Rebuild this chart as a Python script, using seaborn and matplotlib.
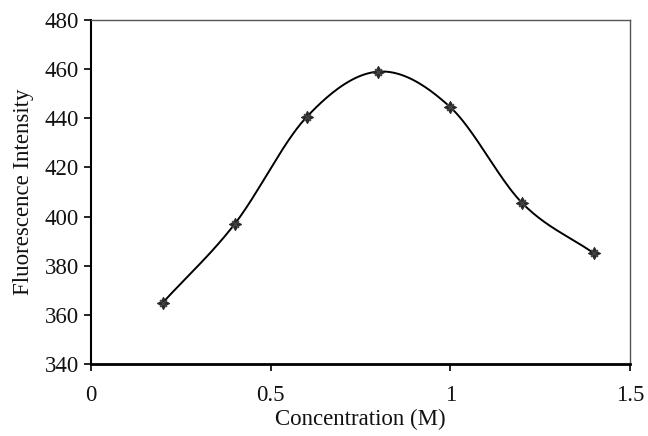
import numpy as np
import pandas as pd
import seaborn as sns
import matplotlib
matplotlib.use("Agg")
import matplotlib.pyplot as plt

# Data
concentration = [0.2, 0.4, 0.6, 0.8, 1.0, 1.2, 1.4]
intensity = [365.0, 397.0, 440.5, 459.0, 444.5, 405.5, 385.0]
x_ticks = [0, 0.5, 1, 1.5]
x_tick_labels = ["0", "0.5", "1", "1.5"]
y_ticks = [340, 360, 380, 400, 420, 440, 460, 480]

sns.set_theme(style="white")
plt.rcParams["font.family"] = ["Liberation Serif", "DejaVu Serif"]

df = pd.DataFrame({"x": concentration, "y": intensity})


def catmull_rom(xs, ys, n=40):
    """Excel-like smoothed line through the data points."""
    xs = np.asarray(xs, float)
    ys = np.asarray(ys, float)
    px = np.concatenate([[2 * xs[0] - xs[1]], xs, [2 * xs[-1] - xs[-2]]])
    py = np.concatenate([[2 * ys[0] - ys[1]], ys, [2 * ys[-1] - ys[-2]]])
    outx, outy = [], []
    for i in range(1, len(px) - 2):
        p0, p1, p2, p3 = (np.array([px[j], py[j]]) for j in range(i - 1, i + 3))
        c1 = p1 + (p2 - p0) / 6.0
        c2 = p2 - (p3 - p1) / 6.0
        t = np.linspace(0, 1, n)[:, None]
        pts = ((1 - t) ** 3) * p1 + 3 * ((1 - t) ** 2) * t * c1 + 3 * (1 - t) * t ** 2 * c2 + t ** 3 * p2
        outx.extend(pts[:, 0])
        outy.extend(pts[:, 1])
    return pd.DataFrame({"x": outx, "y": outy})


smooth = catmull_rom(concentration, intensity)

fig = plt.figure(figsize=(6.48, 4.36), dpi=100)
ax = fig.add_axes([91 / 648, 72 / 436, (630 - 91) / 648, (364 - 20) / 436])

sns.lineplot(data=smooth, x="x", y="y", ax=ax, color="black", linewidth=1.4,
             sort=False, estimator=None)
sns.scatterplot(data=df, x="x", y="y", ax=ax, marker=(4, 1, 0), s=75, color="#2a2a2a",
                edgecolor="#2a2a2a", linewidth=0.8, zorder=5)
sns.scatterplot(data=df, x="x", y="y", ax=ax, marker="x", s=25, color="#444444",
                linewidth=1.0, zorder=6)

ax.set_xlim(0, 1.5)
ax.set_ylim(340, 480)
ax.set_xticks(x_ticks)
ax.set_xticklabels(x_tick_labels)
ax.set_yticks(y_ticks)

for side in ["left", "bottom"]:
    ax.spines[side].set_color("black")
ax.spines["left"].set_linewidth(1.5)
ax.spines["bottom"].set_linewidth(2.0)
for side in ["top", "right"]:
    ax.spines[side].set_color("#555555")
    ax.spines[side].set_linewidth(1.0)
    ax.spines[side].set_visible(True)

fs = 16.5
ax.tick_params(axis="both", direction="out", length=5, width=1.2, color="black",
               labelsize=fs, labelcolor="#111111")
ax.tick_params(axis="x", bottom=True, top=False, pad=10)
ax.tick_params(axis="y", left=True, right=False, pad=3.5)

ax.set_xlabel("Concentration (M)", fontsize=fs, color="#111111", labelpad=2)
ax.set_ylabel("Fluorescence Intensity", fontsize=fs, color="#111111", labelpad=8)
ax.grid(False)

fig.savefig("out.png", dpi=100)
